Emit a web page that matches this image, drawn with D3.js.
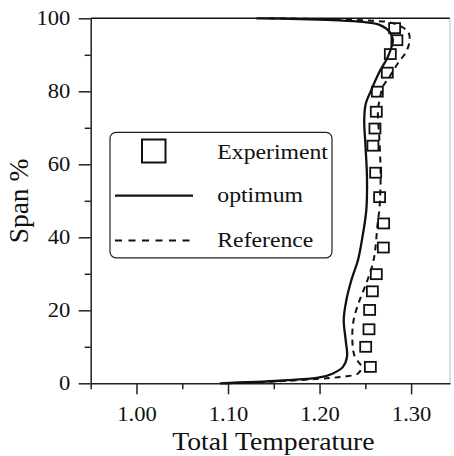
<!DOCTYPE html>
<html>
<head>
<meta charset="utf-8">
<script src="https://cdn.jsdelivr.net/npm/d3@7"></script>
<style>
body { margin: 0; background: #fff; }
text { font-family: "Liberation Serif", "Times New Roman", serif; fill: #111; }
</style>
</head>
<body>
<div id="chart"></div>
<script>
// Experiment (squares)
const expTemp = [1.2555, 1.2504, 1.2540, 1.2547, 1.2577, 1.2620, 1.2697, 1.2700, 1.2656,
                 1.2613, 1.2583, 1.2605, 1.2620, 1.2631, 1.2740, 1.2773, 1.2845, 1.2820];
const expSpan = [4.5, 10.0, 14.8, 20.1, 25.2, 29.9, 37.2, 43.8, 51.0,
                 57.7, 65.1, 69.8, 74.4, 79.9, 85.1, 90.2, 94.0, 97.3];

// optimum (solid)
const optTemp = [1.091, 1.1565, 1.200, 1.2147, 1.2256, 1.2300, 1.2285, 1.2264, 1.2293, 1.2348,
                 1.2420, 1.2457, 1.2511, 1.2518, 1.2500, 1.2488, 1.2504, 1.2566, 1.2656, 1.2747,
                 1.2801, 1.2765, 1.2656, 1.2474, 1.2147, 1.1784, 1.131];
const optSpan = [0, 0.7, 1.6, 2.7, 4.5, 7.3, 11.9, 17.4, 22.8, 28.3,
                 33.8, 38.4, 47.5, 56.6, 65.8, 72.0, 76.5, 80.4, 85.4, 89.5,
                 94.1, 96.3, 98.2, 99.0, 99.5, 99.8, 100];

// Reference (dashed)
const refTemp = [1.0965, 1.160, 1.211, 1.2256, 1.2420, 1.2457, 1.2384, 1.2358, 1.2373, 1.2438,
                 1.2511, 1.2583, 1.2610, 1.2631, 1.2656, 1.2667, 1.2656, 1.2638, 1.2656, 1.2692,
                 1.2765, 1.2856, 1.2948, 1.2984, 1.2970, 1.2893, 1.2765, 1.2583, 1.2329, 1.190, 1.140];
const refSpan = [0, 0.6, 1.45, 1.8, 2.7, 4.5, 7.3, 11.9, 17.4, 22.8,
                 27.4, 32.9, 37.0, 42.9, 48.4, 56.6, 65.8, 74.9, 77.6, 81.3,
                 84.0, 87.7, 90.9, 94.0, 96.2, 97.7, 98.9, 99.3, 99.6, 99.85, 100];

const xTicks = [1.00, 1.10, 1.20, 1.30];
const xMinor = [0.95, 1.05, 1.15, 1.25];
const yTicks = [0, 20, 40, 60, 80, 100];
const yMinor = [10, 30, 50, 70, 90];
const legendNames = ["Experiment", "optimum", "Reference"];

const W = 454, H = 456;
const plot = {left: 90.7, right: 450, top: 18.3, bottom: 383.3};
const sx = 1.13; // text is a bit wide in the picture

const svg = d3.select("#chart").append("svg")
    .attr("width", W).attr("height", H);

const x = d3.scaleLinear().domain([0.95, 1.3425]).range([plot.left, plot.right]);
const y = d3.scaleLinear().domain([0, 100]).range([plot.bottom, plot.top]);

// frame top and right
svg.append("line")
    .attr("x1", x(0.95)).attr("x2", x(1.3425))
    .attr("y1", y(100)).attr("y2", y(100))
    .attr("stroke", "#111").attr("stroke-width", 1.5);
svg.append("line")
    .attr("x1", x(1.3425)).attr("x2", x(1.3425))
    .attr("y1", y(100)).attr("y2", y(0))
    .attr("stroke", "#bbb").attr("stroke-width", 1);

// x axis
const gx = svg.append("g")
    .attr("transform", `translate(0,${y(0)})`)
    .call(d3.axisBottom(x).tickValues(xTicks).tickSize(11).tickPadding(13)
        .tickSizeOuter(0).tickFormat(d3.format(".2f")));
svg.append("g")
    .attr("transform", `translate(0,${y(0)})`)
    .call(d3.axisBottom(x).tickValues(xMinor).tickSize(6).tickFormat(""))
    .call(g => g.select(".domain").remove());

// y axis
const gy = svg.append("g")
    .attr("transform", `translate(${x(0.95)},0)`)
    .call(d3.axisLeft(y).tickValues(yTicks).tickSize(12).tickPadding(6).tickSizeOuter(0));
svg.append("g")
    .attr("transform", `translate(${x(0.95)},0)`)
    .call(d3.axisLeft(y).tickValues(yMinor).tickSize(6).tickFormat(""))
    .call(g => g.select(".domain").remove());

svg.selectAll(".domain, .tick line").attr("stroke", "#222").attr("stroke-width", 1.5);
[gx, gy].forEach(g => {
    g.attr("font-family", null).attr("font-size", null);
    g.selectAll("text")
        .style("font-size", "20px")
        .attr("transform", `scale(${sx},1)`);
});

// axis titles
svg.append("text")
    .attr("transform", `translate(${(plot.left + plot.right) / 2 + 3},450) scale(${sx},1)`)
    .attr("text-anchor", "middle")
    .style("font-size", "24.5px")
    .text("Total Temperature");

svg.append("text")
    .attr("transform", `translate(28,201) rotate(-90) scale(1.1,${sx})`)
    .attr("text-anchor", "middle")
    .style("font-size", "25px")
    .text("Span %");

// lines
const line = d3.line()
    .x(d => x(d[0]))
    .y(d => y(d[1]))
    .curve(d3.curveCatmullRom.alpha(0.5));

svg.append("path")
    .datum(d3.zip(refTemp, refSpan))
    .attr("d", line)
    .attr("fill", "none")
    .attr("stroke", "#111")
    .attr("stroke-width", 2)
    .attr("stroke-dasharray", "6,5");

svg.append("path")
    .datum(d3.zip(optTemp, optSpan))
    .attr("d", line)
    .attr("fill", "none")
    .attr("stroke", "#111")
    .attr("stroke-width", 2.3);

// experiment squares
svg.selectAll(".exp")
    .data(d3.zip(expTemp, expSpan))
    .enter().append("rect")
    .attr("class", "exp")
    .attr("x", d => x(d[0]) - 5.5)
    .attr("y", d => y(d[1]) - 5)
    .attr("width", 11)
    .attr("height", 10)
    .attr("fill", "none")
    .attr("stroke", "#111")
    .attr("stroke-width", 1.8);

// legend
const legend = svg.append("g");
legend.append("rect")
    .attr("x", 110).attr("y", 132.3)
    .attr("width", 222).attr("height", 125.5)
    .attr("rx", 6)
    .attr("fill", "#fff")
    .attr("stroke", "#222").attr("stroke-width", 1.2);

legend.append("rect")
    .attr("x", 142).attr("y", 139.5)
    .attr("width", 23.5).attr("height", 23)
    .attr("fill", "none").attr("stroke", "#111").attr("stroke-width", 2);
legend.append("line")
    .attr("x1", 115).attr("x2", 193).attr("y1", 195.7).attr("y2", 195.7)
    .attr("stroke", "#111").attr("stroke-width", 2.3);
legend.append("line")
    .attr("x1", 115).attr("x2", 193).attr("y1", 240.5).attr("y2", 240.5)
    .attr("stroke", "#111").attr("stroke-width", 2)
    .attr("stroke-dasharray", "7,6.5");

legend.selectAll(".legend-text")
    .data(legendNames)
    .enter().append("text")
    .attr("class", "legend-text")
    .attr("transform", (d, i) => `translate(217.3,${[159, 202.3, 246.7][i]}) scale(${sx},1)`)
    .style("font-size", "21px")
    .text(d => d);
</script>
</body>
</html>
